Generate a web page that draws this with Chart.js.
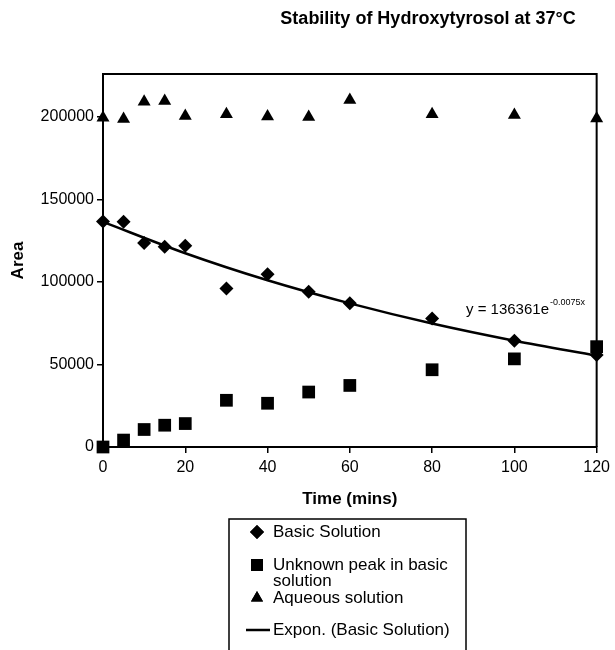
<!DOCTYPE html>
<html>
<head>
<meta charset="utf-8">
<script src="https://cdn.jsdelivr.net/npm/chart.js@4.4.1/dist/chart.umd.min.js"></script>
<style>
  html, body { margin: 0; padding: 0; background: #fff; }
  #wrap { width: 615px; height: 650px; position: relative; }
</style>
</head>
<body>
<div id="wrap"><canvas id="stabilityChart" width="615" height="650"></canvas></div>
<script>
// Data
const timeMins = [0, 5, 10, 15, 20, 30, 40, 50, 60, 80, 100, 120];
const basicSolution = [136700, 136500, 123600, 121300, 122000, 96000, 104600, 94100, 87100, 77900, 64400, 55800];
const unknownPeak = [0, 4200, 10600, 13200, 14200, 28300, 26500, 33300, 37300, 46800, 53400, 60800];
const aqueousSolution = [199500, 198800, 209200, 209600, 200600, 201600, 200200, 200000, 210300, 201600, 201200, 199000];
// exponential trendline as drawn in the picture
const trendX = [0, 20, 40, 60, 80, 100, 120];
const trendY = [136400, 117400, 101000, 87000, 74800, 64400, 55400];

const yTicks = [0, 50000, 100000, 150000, 200000];
const xTicks = [0, 20, 40, 60, 80, 100, 120];

const pairs = (xs, ys) => xs.map((x, i) => ({ x: x, y: ys[i] }));

const FONT = 'Arial, "Liberation Sans", sans-serif';

// title, frame, trendline equation and legend box
const extras = {
    id: 'extras',
    afterDraw(chart) {
        const ctx = chart.ctx;
        const a = chart.chartArea;
        ctx.save();
        // top and right frame
        ctx.strokeStyle = '#000';
        ctx.lineWidth = 2;
        ctx.beginPath();
        ctx.moveTo(a.left, a.top);
        ctx.lineTo(a.right, a.top);
        ctx.lineTo(a.right, a.bottom);
        ctx.stroke();

        ctx.fillStyle = '#000';
        ctx.textBaseline = 'middle';
        ctx.font = 'bold 18px ' + FONT;
        ctx.textAlign = 'center';
        ctx.fillText('Stability of Hydroxytyrosol at 37°C', 428, 19);

        // equation
        ctx.textAlign = 'left';
        ctx.font = '15px ' + FONT;
        const ex = 466, ey = 310;
        const base = 'y = 136361e';
        ctx.fillText(base, ex, ey);
        const w = ctx.measureText(base).width;
        ctx.font = '9px ' + FONT;
        ctx.fillText('-0.0075x', ex + w + 1, ey - 7);

        // legend
        ctx.lineWidth = 1.5;
        ctx.strokeRect(229, 519, 237, 140);
        ctx.font = '17px ' + FONT;
        const mx = 257, tx = 273;
        const items = [
            { style: 'rectRot', r: 7, y: 532, lines: ['Basic Solution'] },
            { style: 'rect', r: 8.5, y: 565, lines: ['Unknown peak in basic', 'solution'] },
            { style: 'triangle', r: 7, y: 598, lines: ['Aqueous solution'] },
            { style: 'line', y: 630, lines: ['Expon. (Basic Solution)'] }
        ];
        items.forEach(it => {
            if (it.style === 'line') {
                ctx.lineWidth = 2.5;
                ctx.beginPath();
                ctx.moveTo(246, it.y);
                ctx.lineTo(270, it.y);
                ctx.stroke();
            } else {
                Chart.helpers.drawPoint(ctx, { pointStyle: it.style, radius: it.r, rotation: 0, borderWidth: 0 }, mx, it.y);
                ctx.fill();
            }
            it.lines.forEach((t, k) => ctx.fillText(t, tx, it.y + k * 16));
        });
        ctx.restore();
    }
};

const ctx = document.getElementById('stabilityChart').getContext('2d');
const myChart = new Chart(ctx, {
    type: 'scatter',
    data: {
        datasets: [
            {
                label: 'Expon. (Basic Solution)',
                data: pairs(trendX, trendY),
                showLine: true,
                borderColor: '#000',
                borderWidth: 2.5,
                pointRadius: 0,
                cubicInterpolationMode: 'monotone',
                order: 4
            },
            {
                label: 'Basic Solution',
                data: pairs(timeMins, basicSolution),
                pointStyle: 'rectRot',
                pointRadius: 7,
                backgroundColor: '#000',
                borderColor: '#000',
                borderWidth: 0,
                order: 1
            },
            {
                label: 'Unknown peak in basic solution',
                data: pairs(timeMins, unknownPeak),
                pointStyle: 'rect',
                pointRadius: 9,
                backgroundColor: '#000',
                borderColor: '#000',
                borderWidth: 0,
                order: 2
            },
            {
                label: 'Aqueous solution',
                data: pairs(timeMins, aqueousSolution),
                pointStyle: 'triangle',
                pointRadius: 7.5,
                backgroundColor: '#000',
                borderColor: '#000',
                borderWidth: 0,
                order: 3
            }
        ]
    },
    options: {
        responsive: false,
        animation: false,
        clip: false,
        layout: { padding: { top: 74, left: 0, right: 14, bottom: 140 } },
        plugins: {
            legend: { display: false },
            tooltip: { enabled: false }
        },
        scales: {
            x: {
                type: 'linear',
                min: 0,
                max: 120,
                afterBuildTicks: s => { s.ticks = xTicks.map(v => ({ value: v })); },
                afterFit: s => { s.height = 63; },
                grid: { drawOnChartArea: false, tickLength: 6, color: '#000', lineWidth: 1.5 },
                border: { color: '#000', width: 2 },
                ticks: { color: '#000', font: { size: 16, family: FONT }, padding: 5, maxRotation: 0 },
                title: { display: true, text: 'Time (mins)', color: '#000', font: { size: 17, weight: 'bold', family: FONT }, padding: 0 }
            },
            y: {
                min: 0,
                max: 226000,
                afterBuildTicks: s => { s.ticks = yTicks.map(v => ({ value: v })); },
                afterFit: s => { s.width = 103; },
                grid: { drawOnChartArea: false, tickLength: 6, color: '#000', lineWidth: 1.5 },
                border: { color: '#000', width: 2 },
                ticks: { color: '#000', font: { size: 16, family: FONT }, padding: 3, callback: v => String(v) },
                title: { display: true, text: 'Area', color: '#000', font: { size: 17, weight: 'bold', family: FONT }, padding: { top: 8 } }
            }
        }
    },
    plugins: [extras]
});
</script>
</body>
</html>
